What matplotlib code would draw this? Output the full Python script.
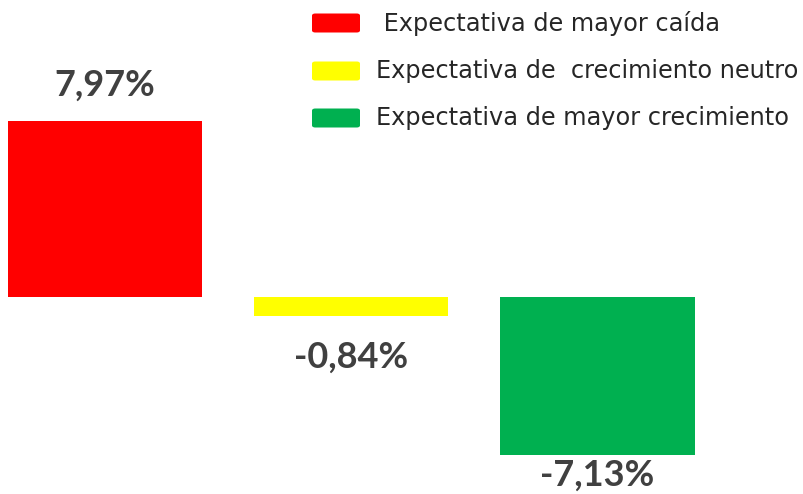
import matplotlib.pyplot as plt
from matplotlib.patches import FancyBboxPatch

categories = [' Expectativa de mayor caída', 'Expectativa de  crecimiento neutro',
              'Expectativa de mayor crecimiento']
values = [7.97, -0.84, -7.13]
labels = ['7,97%', '-0,84%', '-7,13%']
colors = ['#ff0000', '#ffff00', '#00b050']

fig = plt.figure(figsize=(8.04, 4.94), dpi=100)
ax = fig.add_axes([0, 0, 1, 1])
ax.set_xlim(-0.426, 2.839)
ax.set_ylim(-8.91, 13.44)
ax.axis('off')

bars = ax.bar(range(len(values)), values, width=0.79, color=colors)

# label offsets in points (above for positive, below for negative)
offs = [26, -30, -15]
for b, lab, v, o in zip(bars, labels, values, offs):
    ax.annotate(lab, (b.get_x() + b.get_width() / 2, v), xytext=(0, o),
                textcoords='offset points', ha='center', va='center',
                fontsize=26, fontweight='bold', color='#404040', family='Lato')

# legend drawn by hand
ly = [23, 71, 118]
for c, name, y in zip(colors, categories, ly):
    yf = 1 - y / 494
    fig.patches.append(FancyBboxPatch((312 / 804, yf - 9.5 / 494), 48 / 804, 19 / 494,
                                      boxstyle='round,pad=0,rounding_size=0.004',
                                      transform=fig.transFigure, fc=c, ec='none'))
    fig.text(376 / 804, yf, name, ha='left', va='center', fontsize=17.3,
             color='#262626', family='DejaVu Sans')

fig.savefig('out.png', dpi=100)
